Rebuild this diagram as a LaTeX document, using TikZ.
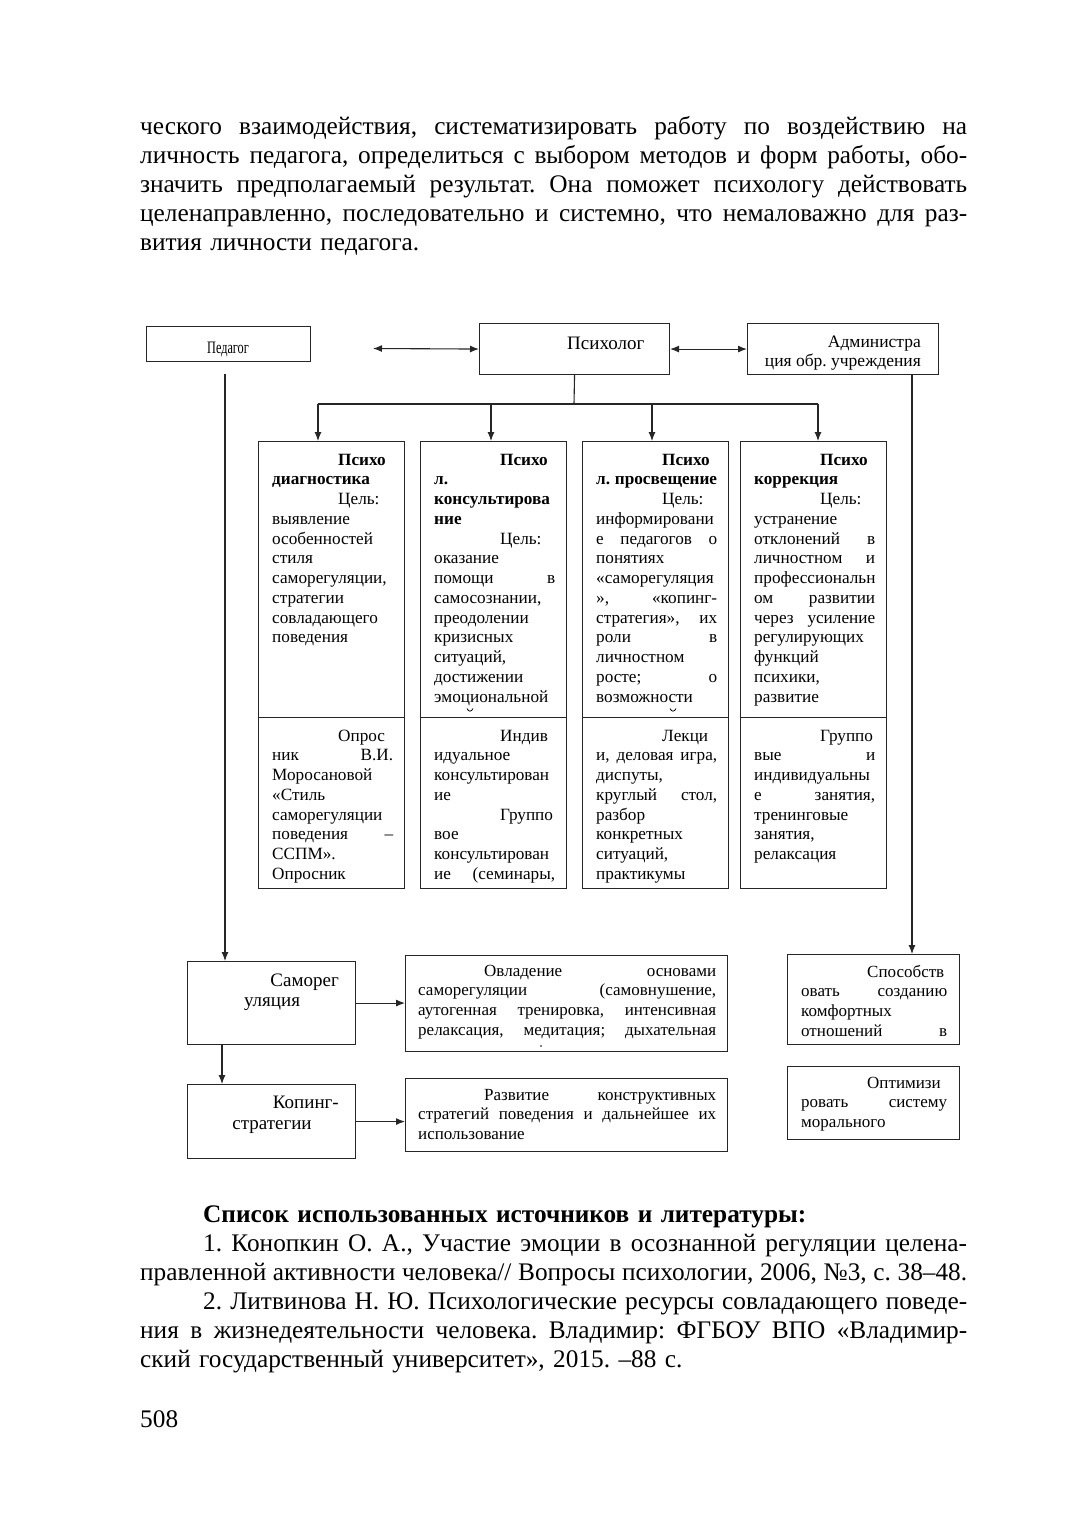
\documentclass[tikz,border=0pt]{standalone}
\usepackage{fontspec}
\usepackage{graphicx}
\setmainfont{Liberation Serif}
\usetikzlibrary{arrows.meta}
\frenchspacing
\newcommand\jline[1]{\makebox[\hsize][s]{\spaceskip=0pt\xspaceskip=0pt #1}}
\newcommand\indn{\hspace*{66pt}}
\newcommand\indj[1]{\hspace*{66pt}\makebox[\dimexpr\hsize-66pt\relax][s]{\spaceskip=0pt\xspaceskip=0pt #1}}
\newcommand\wline[2]{\makebox[#1][s]{\spaceskip=0pt\xspaceskip=0pt #2}}
\begin{document}
\begin{tikzpicture}[x=1pt,y=-1pt,
  box/.style={draw=black!85, line width=1.1pt, inner sep=0pt, anchor=north west},
  coltext/.style={anchor=base west, inner sep=0pt, text width=121pt, align=left, font=\fontsize{17.2}{19.75}\selectfont},
  widetext/.style={anchor=base west, inner sep=0pt, text width=298pt, align=left, font=\fontsize{17}{19.9}\selectfont},
  sidetext/.style={anchor=base west, inner sep=0pt, text width=146pt, align=left, font=\fontsize{17}{19.9}\selectfont},
  bodytext/.style={anchor=base west, inner sep=0pt, text width=827pt, align=left, font=\fontsize{25.3}{29}\selectfont},
  plain/.style={inner sep=0pt},
  conn/.style={draw=black!85, line width=1.1pt},
  arr/.style={conn, -{Latex[length=9pt,width=7pt]}},
  dbl/.style={conn, {Latex[length=9pt,width=7pt]}-{Latex[length=9pt,width=7pt]}}
]
\useasboundingbox (0,0) rectangle (1080,1534);
\fill[white] (0,0) rectangle (1080,1534);

% ---------- body text ----------
\node[bodytext] (body) at (140,134) {%
\jline{ческого взаимодействия, систематизировать работу по воздействию на}\\
\jline{личность педагога, определиться с выбором методов и форм работы, обо-}\\
\jline{значить предполагаемый результат. Она поможет психологу действовать}\\
\jline{целенаправленно, последовательно и системно, что немаловажно для раз-}\\
вития личности педагога.};

% ---------- top row ----------
\node[box, minimum width=164pt, minimum height=35pt] (ped) at (146,326) {};
\node[plain, anchor=base] (pedt) at (228,353) {\scalebox{0.7}[1]{\fontsize{17.5}{18}\selectfont Педагог}};
\node[box, minimum width=190pt, minimum height=51pt] (psy) at (479,323) {};
\node[plain, anchor=base west, font=\fontsize{19}{22}\selectfont] (psyt) at (567,349) {Психолог};
\node[box, minimum width=191pt, minimum height=51pt] (adm) at (747,323) {};
\node[plain, anchor=base east, font=\fontsize{17.5}{20}\selectfont] (admt1) at (921,347) {Администра};
\node[plain, anchor=base east, font=\fontsize{17.5}{20}\selectfont] (admt2) at (921,366) {ция обр. учреждения};

\coordinate (pedL) at (373,348.5);
\draw[dbl] (pedL) -- (psy.west);
\draw[dbl] (psy.east) -- (adm.west);

% ---------- bus ----------
\coordinate (bus) at (574,404);
\coordinate (b1) at (318,404);
\coordinate (b2) at (491,404);
\coordinate (b3) at (652,404);
\coordinate (b4) at (818,404);
\draw[conn] (psy.south) -- (bus);
\draw[conn] (b1) -- (b4);

% ---------- four columns ----------
\node[box, minimum width=146pt, minimum height=276pt] (c1u) at (258,441) {};
\node[box, minimum width=146pt, minimum height=171pt] (c1l) at (258,717) {};
\node[box, minimum width=146pt, minimum height=276pt] (c2u) at (420,441) {};
\node[box, minimum width=146pt, minimum height=171pt] (c2l) at (420,717) {};
\node[box, minimum width=146pt, minimum height=276pt] (c3u) at (582,441) {};
\node[box, minimum width=146pt, minimum height=171pt] (c3l) at (582,717) {};
\node[box, minimum width=146pt, minimum height=276pt] (c4u) at (740,441) {};
\node[box, minimum width=146pt, minimum height=171pt] (c4l) at (740,717) {};

\draw[arr] (b1) -- (b1 |- c1u.north);
\draw[arr] (b2) -- (b2 |- c2u.north);
\draw[arr] (b3) -- (b3 |- c3u.north);
\draw[arr] (b4) -- (b4 |- c4u.north);

\node[coltext] (t1u) at (272,465) {%
\indn\textbf{Психо}\\
\textbf{диагностика}\\
\indn Цель:\\
выявление\\
особенностей\\
стиля\\
саморегуляции,\\
стратегии\\
совладающего\\
поведения};
\node[coltext] (t1l) at (272,741) {%
\indn Опрос\\
\jline{ник В.И.}\\
Моросановой\\
«Стиль\\
саморегуляции\\
\jline{поведения –}\\
ССПМ».\\
Опросник};

\node[coltext] (t2u) at (434,465) {%
\indn\textbf{Психо}\\
\textbf{л.}\\
\mbox{\textbf{консультирова}}\\
\textbf{ние}\\
\indn Цель:\\
оказание\\
\jline{помощи в}\\
самосознании,\\
преодолении\\
кризисных\\
ситуаций,\\
достижении\\
эмоциональной};
\node[coltext] (t2l) at (434,741) {%
\indn Индив\\
идуальное\\
консультирован\\
ие\\
\indn Группо\\
вое\\
консультирован\\
\jline{ие (семинары,}};

\node[coltext] (t3u) at (596,465) {%
\indn\textbf{Психо}\\
\mbox{\textbf{л.\kern-1pt\ просвещение}}\\
\indn Цель:\\
информировани\\
\jline{е педагогов о}\\
понятиях\\
«саморегуляция\\
\jline{», «копинг-}\\
\jline{стратегия», их}\\
\jline{роли в}\\
личностном\\
\jline{росте; о}\\
возможности};
\node[coltext] (t3l) at (596,741) {%
\indn Лекци\\
\jline{и, деловая игра,}\\
диспуты,\\
\jline{круглый стол,}\\
разбор\\
конкретных\\
ситуаций,\\
практикумы};

\node[coltext] (t4u) at (754,465) {%
\indn\textbf{Психо}\\
\textbf{коррекция}\\
\indn Цель:\\
устранение\\
\jline{отклонений в}\\
\jline{личностном и}\\
профессиональн\\
\jline{ом развитии}\\
\jline{через усиление}\\
регулирующих\\
функций\\
психики,\\
развитие};
\node[coltext] (t4l) at (754,741) {%
\indn Группо\\
\jline{вые и}\\
индивидуальны\\
\jline{е занятия,}\\
тренинговые\\
занятия,\\
релаксация};

% clipped marks of cut-off lines
\draw[line width=0.8pt] (467,708.5) .. controls (468.5,712) and (471.5,712) .. (473,708.5);
\draw[line width=0.8pt] (670,708.5) .. controls (671.5,712) and (674.5,712) .. (676,708.5);
\fill (541,1046) circle (0.9pt);

% ---------- bottom part ----------
\node[box, minimum width=168pt, minimum height=83pt] (samo) at (187,961) {};
\node[plain, anchor=base east, font=\fontsize{19}{22}\selectfont] (samo1) at (339,986) {Саморег};
\node[plain, anchor=base, font=\fontsize{19}{22}\selectfont] (samo2) at (272,1006) {уляция};
\node[box, minimum width=168pt, minimum height=74pt] (kop) at (187,1084) {};
\node[plain, anchor=base east, font=\fontsize{19}{22}\selectfont] (kop1) at (339,1108) {Копинг-};
\node[plain, anchor=base, font=\fontsize{19}{22}\selectfont] (kop2) at (272,1129) {стратегии};

\node[box, minimum width=322pt, minimum height=96pt] (ovl) at (405,955) {};
\node[widetext] (ovlt) at (418,976) {%
\indj{Овладение основами}\\
\jline{саморегуляции (самовнушение,}\\
\jline{аутогенная тренировка, интенсивная}\\
\jline{релаксация, медитация; дыхательная}};
\node[box, minimum width=322pt, minimum height=73pt] (raz) at (405,1078) {};
\node[widetext] (razt) at (418,1100) {%
\indj{Развитие конструктивных}\\
\jline{стратегий поведения и дальнейшее их}\\
использование};

\node[box, minimum width=172pt, minimum height=90pt] (spo) at (787,954) {};
\node[sidetext] (spot) at (801,977) {%
\indn Способств\\
\jline{овать созданию}\\
комфортных\\
\jline{отношений в}};
\node[box, minimum width=172pt, minimum height=73pt] (opt) at (787,1066) {};
\node[sidetext] (optt) at (801,1088) {%
\indn Оптимизи\\
\jline{ровать систему}\\
морального};

\coordinate (pedD) at (225,374);
\draw[arr] (pedD) -- (pedD |- samo.north);
\coordinate (admD) at (912,374);
\draw[arr] (admD) -- (admD |- spo.north);
\draw[arr] (samo.east) -- (samo.east -| ovl.west);
\coordinate (sk) at (222,1044);
\draw[arr] (sk) -- (sk |- kop.north);
\draw[arr] (kop.east) -- (kop.east -| raz.west);

% ---------- references ----------
\node[bodytext] (refs) at (140,1222) {%
\hspace*{63pt}\textbf{Список использованных источников и литературы:}\\
\hspace*{63pt}\wline{764pt}{1. Конопкин О. А., Участие эмоции в осознанной регуляции целена-}\\
\jline{правленной активности человека// Вопросы психологии, 2006, №3, с. 38–48.}\\
\hspace*{63pt}\wline{764pt}{2. Литвинова Н. Ю. Психологические ресурсы совладающего поведе-}\\
\jline{ния в жизнедеятельности человека. Владимир: ФГБОУ ВПО «Владимир-}\\
ский государственный университет», 2015. –88 с.};
\node[plain, anchor=base west, font=\fontsize{25.3}{29}\selectfont] (page) at (140,1427) {508};
\end{tikzpicture}
\end{document}
